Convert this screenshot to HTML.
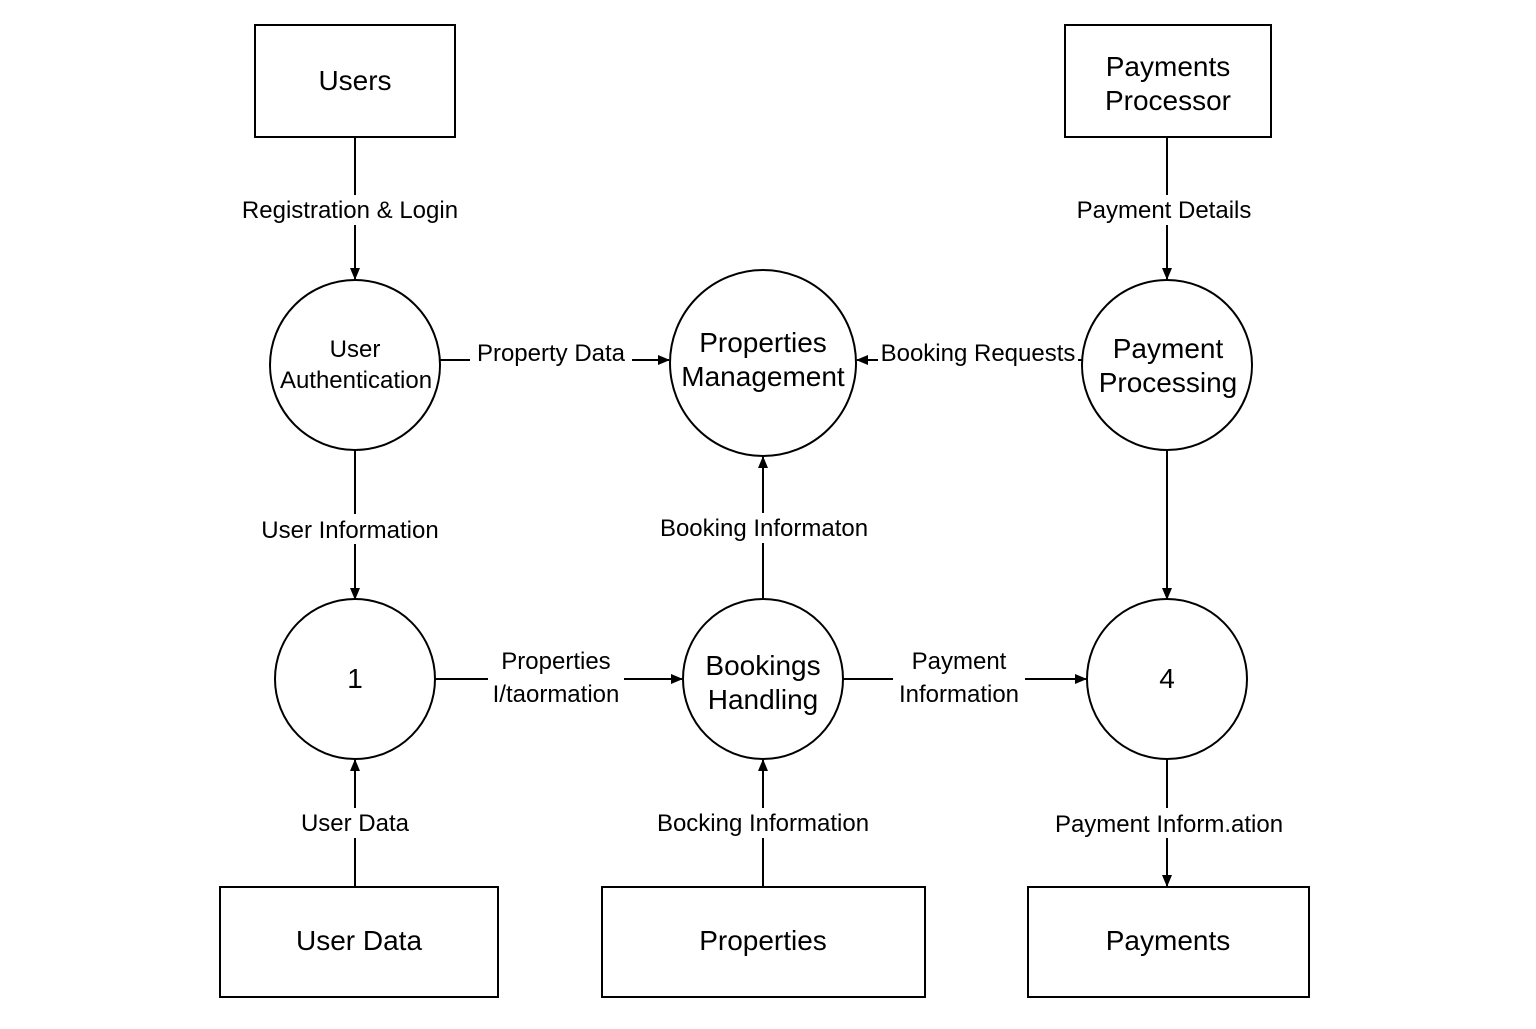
<!DOCTYPE html>
<html><head><meta charset="utf-8"><style>html,body{margin:0;padding:0;background:#fff}</style></head>
<body>
<svg width="1536" height="1024" viewBox="0 0 1536 1024" xmlns="http://www.w3.org/2000/svg" font-family="Liberation Sans, sans-serif" fill="none" stroke="#000" stroke-width="2">
<defs><marker id="a" markerWidth="12" markerHeight="10" refX="11" refY="5" orient="auto" markerUnits="userSpaceOnUse"><path d="M0,0 L12,5 L0,10 Z" fill="#000" stroke="none"/></marker></defs>
<rect x="255" y="25" width="200" height="112"/>
<rect x="1065" y="25" width="206" height="112"/>
<rect x="220" y="887" width="278" height="110"/>
<rect x="602" y="887" width="323" height="110"/>
<rect x="1028" y="887" width="281" height="110"/>
<circle cx="355" cy="365" r="85"/>
<circle cx="763" cy="363" r="93"/>
<circle cx="1167" cy="365" r="85"/>
<circle cx="355" cy="679" r="80"/>
<circle cx="763" cy="679" r="80"/>
<circle cx="1167" cy="679" r="80"/>
<g marker-end="url(#a)">
<line x1="355" y1="137" x2="355" y2="279"/>
<line x1="1167" y1="137" x2="1167" y2="279"/>
<line x1="440" y1="360" x2="669" y2="360"/>
<line x1="1082" y1="360" x2="857" y2="360"/>
<line x1="355" y1="451" x2="355" y2="599"/>
<line x1="1167" y1="451" x2="1167" y2="599"/>
<line x1="763" y1="600" x2="763" y2="457"/>
<line x1="435" y1="679" x2="682" y2="679"/>
<line x1="843" y1="679" x2="1086" y2="679"/>
<line x1="355" y1="887" x2="355" y2="760"/>
<line x1="763" y1="887" x2="763" y2="760"/>
<line x1="1167" y1="759" x2="1167" y2="886"/>
</g>
<g fill="#fff" stroke="none">
<rect x="235" y="195" width="230" height="30"/>
<rect x="1070" y="195" width="188" height="30"/>
<rect x="470" y="338" width="162" height="30"/>
<rect x="878" y="338" width="200" height="30"/>
<rect x="250" y="514" width="200" height="30"/>
<rect x="657" y="513" width="214" height="30"/>
<rect x="488" y="646" width="136" height="64"/>
<rect x="893" y="646" width="132" height="64"/>
<rect x="294" y="808" width="122" height="30"/>
<rect x="653" y="808" width="220" height="30"/>
<rect x="1046" y="808" width="246" height="30"/>
</g>
<g fill="#000" stroke="none" text-anchor="middle" font-size="28">
<text x="355" y="90">Users</text>
<text x="1168" y="76">Payments</text>
<text x="1168" y="110">Processor</text>
<text x="359" y="950">User Data</text>
<text x="763" y="950">Properties</text>
<text x="1168" y="950">Payments</text>
<text x="763" y="352">Properties</text>
<text x="763" y="386">Management</text>
<text x="1168" y="358">Payment</text>
<text x="1168" y="392">Processing</text>
<text x="763" y="675">Bookings</text>
<text x="763" y="709">Handling</text>
<text x="355" y="688">1</text>
<text x="1167" y="688">4</text>
</g>
<g fill="#000" stroke="none" text-anchor="middle" font-size="24">
<text x="355" y="357">User</text>
<text x="356" y="388">Authentication</text>
<text x="350" y="218">Registration &amp; Login</text>
<text x="1164" y="218">Payment Details</text>
<text x="551" y="361">Property Data</text>
<text x="978" y="361">Booking Requests</text>
<text x="350" y="538">User Information</text>
<text x="764" y="536">Booking Informaton</text>
<text x="556" y="669">Properties</text>
<text x="556" y="702">I/taormation</text>
<text x="959" y="669">Payment</text>
<text x="959" y="702">Information</text>
<text x="355" y="831">User Data</text>
<text x="763" y="831">Bocking Information</text>
<text x="1169" y="832">Payment Inform.ation</text>
</g>
</svg>
</body></html>
